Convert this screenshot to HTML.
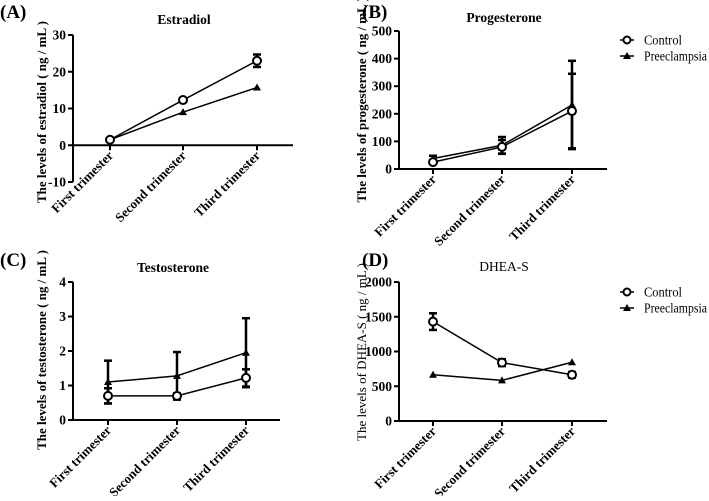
<!DOCTYPE html>
<html><head><meta charset="utf-8"><style>
html,body{margin:0;padding:0;background:#fff;}
svg, svg text{font-family:"Liberation Serif","DejaVu Serif",serif;}
</style></head><body>
<svg id="s" width="709" height="496" viewBox="0 0 709 496" font-family="Liberation Serif, DejaVu Serif, serif"></svg>
<script>
const categories=["First trimester","Second trimester","Third trimester"];
const estControl=[1.5,12.3,23];const estControlErr=[0,0.5,1.7];
const estPre=[1.5,9,15.7];const estPreErr=[0,0,0];
const proControl=[25,80,210];const proControlErr=[5,25,135];
const proPre=[38,86,232];const proPreErr=[10,30,160];
const tesControl=[0.7,0.7,1.22];const tesControlErr=[0.22,0.07,0.25];
const tesPre=[1.1,1.28,1.95];const tesPreErr=[0.62,0.69,1.0];
const dheControl=[1430,840,665];const dheControlErr=[120,50,40];
const dhePre=[665,585,845];const dhePreErr=[0,0,0];
const estTicks=[-10,0,10,20,30];const proTicks=[0,100,200,300,400,500];
const tesTicks=[0,1,2,3,4];const dheTicks=[0,500,1000,1500,2000];
const legendLabels=["Control","Preeclampsia"];

const svg=document.getElementById('s');const NS="http://www.w3.org/2000/svg";
const FF='"Liberation Serif","DejaVu Serif",serif';
function mk(t,a,p){const e=document.createElementNS(NS,t);for(const k in a)e.setAttribute(k,a[k]);if(t==='text')e.style.fontFamily=FF;(p||svg).appendChild(e);return e;}

function panel(o){
  const g=mk('g',{});
  
  
  const ymin=o.ticks[0],ymax=o.ticks[o.ticks.length-1];
  const ys=v=>o.y0+(v-ymin)/(ymax-ymin)*(o.y1-o.y0);
  const xs=i=>o.cx[i];
  const fw=o.bold?'bold':'normal';
  const lab=mk('text',{x:o.px,y:o.py,'font-size':19,'font-weight':'bold'},g);lab.textContent=o.letter;
  
  const t=mk('text',{x:o.tx,y:o.ty,'font-size':13.5,'font-weight':fw,'text-anchor':'middle'},g);t.textContent=o.title;
  
  const yl=mk('text',{x:0,y:0,'font-size':13,'font-weight':fw,'text-anchor':'middle',transform:`translate(${o.ylx},${o.ylc}) rotate(-90)`},g);yl.textContent=o.ylabel;
  
  const ya=mk('line',{x1:o.ax,x2:o.ax,y1:ys(ymin),y2:ys(ymax),stroke:'#000','stroke-width':2},g);
  
  o.ticks.forEach(v=>{mk('line',{x1:o.ax-5,x2:o.ax,y1:ys(v),y2:ys(v),stroke:'#000','stroke-width':2},g);
    const tl=mk('text',{x:o.ax-7,y:ys(v)+4.5,'font-size':13.5,'font-weight':'bold','text-anchor':'end'},g);tl.textContent=v;
    });
  const xa=mk('line',{x1:o.ax,x2:o.xend,y1:ys(0),y2:ys(0),stroke:'#000','stroke-width':2},g);
  
  const baseY=ys(0);
  categories.forEach((c,i)=>{mk('line',{x1:xs(i),x2:xs(i),y1:baseY,y2:baseY+5,stroke:'#000','stroke-width':2},g);
    const cl=mk('text',{x:0,y:0,'font-size':13,'font-weight':'bold','text-anchor':'end',transform:`translate(${xs(i)+4},${baseY+11}) rotate(-45)`},g);cl.textContent=c;
    });
  [[o.pre,o.preErr,'tri'],[o.ctl,o.ctlErr,'circ']].forEach(([vals,err,m])=>{
    const pl=mk('polyline',{points:vals.map((v,i)=>xs(i)+','+ys(v)).join(' '),fill:'none',stroke:'#000','stroke-width':1.5},g);
    
    vals.forEach((v,i)=>{
      if(err[i]>0){
        mk('line',{x1:xs(i),x2:xs(i),y1:ys(v-err[i]),y2:ys(v+err[i]),stroke:'#000','stroke-width':2.5},g);
        [v-err[i],v+err[i]].forEach(e=>mk('line',{x1:xs(i)-4,x2:xs(i)+4,y1:ys(e),y2:ys(e),stroke:'#000','stroke-width':2.5},g));
      }
      let p;
      if(m==='circ')p=mk('circle',{cx:xs(i),cy:ys(v),r:4,fill:'#fff',stroke:'#000','stroke-width':2},g);
      else p=mk('path',{d:`M${xs(i)-4},${ys(v)+3}L${xs(i)+4},${ys(v)+3}L${xs(i)},${ys(v)-4}Z`,fill:'#000'},g);
      
    });
  });
  if(o.legendY){
    legendLabels.forEach((l,k)=>{
      const ly=o.legendY+k*16;
      const lg=mk('g',{},g);
      mk('line',{x1:620,x2:634,y1:ly,y2:ly,stroke:'#000','stroke-width':1.5},lg);
      if(k===0)mk('circle',{cx:627,cy:ly,r:3.5,fill:'#fff',stroke:'#000','stroke-width':2},lg);
      else mk('path',{d:`M623,${ly+3}L631,${ly+3}L627,${ly-4}Z`,fill:'#000'},lg);
      const lt=mk('text',{x:644,y:ly+4.5,'font-size':14,textLength:k===0?38:63,lengthAdjust:'spacingAndGlyphs'},lg);lt.textContent=l;
    });
  }
}
panel({name:'estradiol-chart',letter:'(A)',px:0,py:18,title:'Estradiol',tx:184,ty:24,bold:true,ylabel:'The levels of estradiol ( ng / mL )',ylx:46,ylc:112,
  ax:73,xend:293,y0:182,y1:35,ticks:estTicks,cx:[110,183,257],ctl:estControl,ctlErr:estControlErr,pre:estPre,preErr:estPreErr});
panel({name:'progesterone-chart',letter:'(B)',px:362,py:18,title:'Progesterone',tx:504,ty:22,bold:true,ylabel:'The levels of progesterone ( ng / mL )',ylx:366,ylc:100,
  ax:399,xend:607,y0:169,y1:31,ticks:proTicks,cx:[433,502,572],ctl:proControl,ctlErr:proControlErr,pre:proPre,preErr:proPreErr,legendY:40});
panel({name:'testosterone-chart',letter:'(C)',px:0,py:266,title:'Testosterone',tx:173,ty:272,bold:true,ylabel:'The levels of testosterone ( ng / mL )',ylx:46,ylc:350,
  ax:73,xend:280,y0:420,y1:282,ticks:tesTicks,cx:[108,177,246],ctl:tesControl,ctlErr:tesControlErr,pre:tesPre,preErr:tesPreErr});
panel({name:'dhea-s-chart',letter:'(D)',px:362,py:266,title:'DHEA-S',tx:504,ty:271,bold:false,ylabel:'The levels of DHEA-S ( ng / mL )',ylx:366,ylc:352,
  ax:399,xend:607,y0:421,y1:282,ticks:dheTicks,cx:[433,502,572],ctl:dheControl,ctlErr:dheControlErr,pre:dhePre,preErr:dhePreErr,legendY:292});
</script>
</body></html>
